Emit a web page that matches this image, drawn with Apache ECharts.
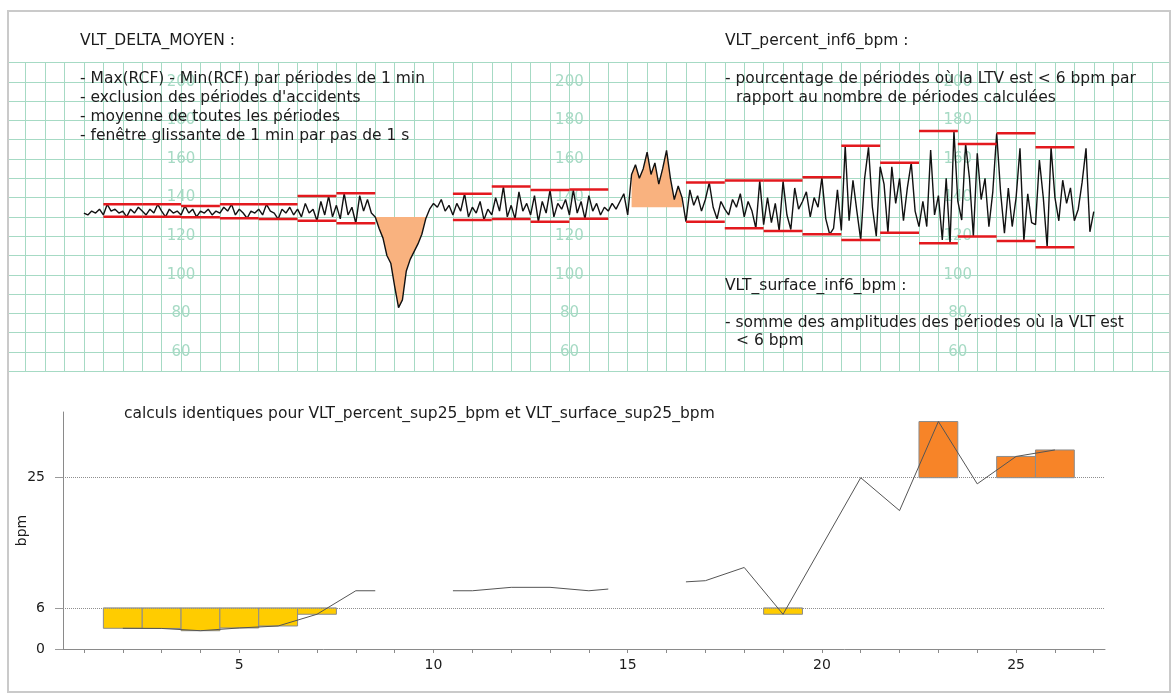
<!DOCTYPE html>
<html><head><meta charset="utf-8">
<script src="https://cdn.jsdelivr.net/npm/echarts@6/dist/echarts.min.js"></script>
<style>html,body{margin:0;padding:0;background:#fff;}#c{width:1172px;height:697px;}</style>
</head><body><div id="c"></div>
<script>
// ---------- DATA ----------
// FHR trace (bpm), one reading every 0.1 min starting at minute 1.0
const traceStart = 1.0;
const traceStep = 0.1;
const trace = [
  132,131,133,132,134,131,136.5,133,134,132,
  133,130,134,132,135,133,131,134,132,136.5,
  133,130,134,132,133,131,135.7,132,134,130,
  133,132,134,131,133,132,135,133,136.5,131,
  134,132,129.3,133,132,134,131,136.5,133,132,
  128.9,134,132,135,131,134,130,137,132,134,
  128,138,131,140.8,130,136,129,142.2,131,135,
  126.7,141,133,139,132,130,124,119,110,106,
  94,83,87,102,108,112,116,121,129,134,
  137,135,139,133,136,131,137,133,142,130,
  135,132,138,128.5,134,131,140,133,145.7,130,
  136,129,143,133,137,131,141,127.5,138,132,
  143.9,130,137,134,139,131,144,132,138,129,
  141,133,137,131,135,133,137,134,138,142,
  131,152,157,150,155,163.5,152,158,147,155,
  164.5,150,139,146,140,127.5,144,136,141,133,
  139,147.8,135,129,138,134,131,139,135,142,
  130,138,133,124.1,148.8,126,140,127,137,122.7,
  148.5,131,123.5,145,134,138,143,130,140,135,
  150.5,129,121,124,144,123,166.9,128,149,133,
  118,150,166,135,120,156,147,121.8,156,137,
  150,128,145,158.1,133,125,138,125,164.7,131,
  141,118,150,116.3,174.5,138,128.4,167.8,150,119.8,
  163,139,150,124.9,143,173.3,143,121.5,145,125,
  140,165.5,117.5,142,127,126,159.5,140,114.3,166.1,
  140,128,149,137,145,128,134,148,165.5,122.3,
  132.7
];
// one-minute periods and their max / min RCF (red segments)
const periods   = [2,3,4,5,6,7,8,11,12,13,14,17,18,19,20,21,22,23,24,25,26];
const periodMax = [136.5,136.5,135.7,136.5,136.5,140.8,142.2,142,145.7,143.9,144.2,147.8,148.8,148.8,150.5,166.9,158.1,174.5,167.8,173.3,166.1];
const periodMin = [130.1,130.1,129.8,129.3,128.9,128.0,126.7,128.4,128.9,127.5,129.1,127.5,124.1,122.7,121.0,118.0,121.8,116.3,119.8,117.5,114.3];
// accidents: [start min, end min, baseline bpm]
const accidentStart = [8.5, 15.1];
const accidentEnd   = [9.8, 16.4];
const accidentBase  = [130, 135];
// CTG paper scale labels
const paperLabelCols = [3.5, 13.5, 23.5];
const paperLabels = [60, 80, 100, 120, 140, 160, 180, 200];
// lower chart: sliding LTV (bpm); null = gap
const ltvX = [2,3,4,5,6,7,8,8.5,null,10.5,11,12,13,14,14.5,null,16.5,17,18,19,21,22,23,24,25,26];
const ltvY = [3.02,3.0,2.67,3.07,3.36,5.07,8.5,8.5,null,8.5,8.5,9.0,9.0,8.5,8.75,null,9.8,9.97,11.9,5.07,25.0,20.2,33.2,24.1,28.1,29.05];
const lowLimit = 6;
const highLimit = 25;
const xTickValues = [1,2,3,4,5,6,7,8,9,10,11,12,13,14,15,16,17,18,19,20,21,22,23,24,25,26,27];
const xLabelValues = [5, 10, 15, 20, 25];
const yLabelValues = [0, 6, 25];

// ---------- BUILD ----------
const traceData = trace.map((v, i) => [+(traceStart + i * traceStep).toFixed(2), v]);
const redData = periods.map((p, i) => [p, periodMin[i], periodMax[i]]);
const fillData = accidentStart.map((s, i) => [s, accidentEnd[i], accidentBase[i]]);
const paperLabelData = [];
paperLabelCols.forEach(c => paperLabels.forEach(v => paperLabelData.push([c, v])));
const ltvData = ltvX.map((x, i) => x === null ? ['-', '-'] : [x, ltvY[i]]);
const lowBars = [], highBars = [];
ltvX.forEach((x, i) => {
  if (x === null || !Number.isInteger(x)) return;
  const y = ltvY[i];
  if (y < lowLimit) lowBars.push([x, y, lowLimit]);
  else if (y > highLimit) highBars.push([x, highLimit, y]);
});

const FONT = '"DejaVu Sans", Verdana, sans-serif';
const GREEN = '#a6dac4';
const TXT = '#1c1c1c';

function txt(x, y, s) {
  return { type: 'text', x: x, y: y, z: 50,
    style: { text: s, font: '15.5px ' + FONT, fill: TXT, verticalAlign: 'middle', align: 'left' } };
}

const chart = echarts.init(document.getElementById('c'), null, { renderer: 'canvas' });
chart.setOption({
  animation: false,
  backgroundColor: '#fff',
  grid: [
    { left: 6.26, top: 62.5, width: 1165.2, height: 308.8, outerBoundsMode: 'none', containLabel: false },
    { left: 63, top: 412, width: 1042, height: 237, outerBoundsMode: 'none', containLabel: false }
  ],
  xAxis: [
    { gridIndex: 0, type: 'value', min: -1, max: 29, interval: 0.5,
      axisLine: { show: false }, axisTick: { show: false }, axisLabel: { show: false },
      splitLine: { show: true, lineStyle: { color: GREEN, width: 1 } } },
    { gridIndex: 1, type: 'value', min: 0.46, max: 27.29,
      axisLine: { show: true, lineStyle: { color: '#8a8a8a', width: 1 } },
      axisTick: { show: true, customValues: xTickValues, length: 4, lineStyle: { color: '#8a8a8a' } },
      axisLabel: { show: true, customValues: xLabelValues, margin: 9, color: TXT, fontFamily: FONT, fontSize: 14 },
      splitLine: { show: false } }
  ],
  yAxis: [
    { gridIndex: 0, type: 'value', min: 50, max: 210, interval: 10,
      axisLine: { show: false }, axisTick: { show: false }, axisLabel: { show: false },
      splitLine: { show: true, lineStyle: { color: GREEN, width: 1 } } },
    { gridIndex: 1, type: 'value', min: 0, max: 34.59,
      name: 'bpm', nameLocation: 'middle', nameRotate: 90, nameGap: 34, nameMoveOverlap: false,
      nameTextStyle: { color: TXT, fontFamily: FONT, fontSize: 14 },
      axisLine: { show: true, lineStyle: { color: '#8a8a8a', width: 1 } },
      axisTick: { show: true, customValues: yLabelValues, length: 8, lineStyle: { color: '#9a9a9a' } },
      axisLabel: { show: true, customValues: yLabelValues, margin: 18, color: TXT, fontFamily: FONT, fontSize: 14 },
      splitLine: { show: false } }
  ],
  series: [
    { // paper scale labels
      type: 'custom', xAxisIndex: 0, yAxisIndex: 0, z: 1, silent: true,
      data: paperLabelData, encode: { x: 0, y: 1 },
      renderItem: function (params, api) {
        const p = api.coord([api.value(0), api.value(1)]);
        return { type: 'text', x: p[0], y: p[1],
          style: { text: String(api.value(1)), font: '15px ' + FONT, fill: GREEN, align: 'center', verticalAlign: 'middle' } };
      }
    },
    { // accident fills
      type: 'custom', xAxisIndex: 0, yAxisIndex: 0, z: 2, silent: true,
      data: fillData, encode: { x: [0, 1], y: 2 },
      renderItem: function (params, api) {
        const s = api.value(0), e = api.value(1), b = api.value(2);
        const pts = [api.coord([s, b])];
        trace.forEach((v, i) => {
          const t = traceStart + i * traceStep;
          if (t >= s - 1e-6 && t <= e + 1e-6) pts.push(api.coord([t, v]));
        });
        pts.push(api.coord([e, b]));
        return { type: 'polygon', shape: { points: pts }, style: { fill: '#f9b27f', stroke: null } };
      }
    },
    { // FHR trace
      type: 'line', xAxisIndex: 0, yAxisIndex: 0, z: 5, silent: true,
      data: traceData, showSymbol: false, symbol: 'none',
      lineStyle: { color: '#111', width: 1.4 }
    },
    { // red max/min segments
      type: 'custom', xAxisIndex: 0, yAxisIndex: 0, z: 6, silent: true,
      data: redData, encode: { x: 0, y: [1, 2] },
      renderItem: function (params, api) {
        const p = api.value(0);
        const lo = api.value(1), hi = api.value(2);
        const a1 = api.coord([p - 0.5, hi]), a2 = api.coord([p + 0.5, hi]);
        const b1 = api.coord([p - 0.5, lo]), b2 = api.coord([p + 0.5, lo]);
        const st = { stroke: '#e3191e', lineWidth: 2.5 };
        return { type: 'group', children: [
          { type: 'line', shape: { x1: a1[0], y1: a1[1], x2: a2[0], y2: a2[1] }, style: st },
          { type: 'line', shape: { x1: b1[0], y1: b1[1], x2: b2[0], y2: b2[1] }, style: st }
        ] };
      }
    },
    { // low bars (yellow)
      type: 'custom', xAxisIndex: 1, yAxisIndex: 1, z: 3, silent: true,
      data: lowBars, encode: { x: 0, y: [1, 2] },
      renderItem: function (params, api) {
        const x = api.value(0);
        const p1 = api.coord([x - 0.5, api.value(2)]), p2 = api.coord([x + 0.5, api.value(1)]);
        return { type: 'rect', shape: { x: p1[0], y: p1[1], width: p2[0] - p1[0], height: p2[1] - p1[1] },
          style: { fill: '#ffcc00', stroke: '#8c8c8c', lineWidth: 1 } };
      }
    },
    { // high bars (orange)
      type: 'custom', xAxisIndex: 1, yAxisIndex: 1, z: 3, silent: true,
      data: highBars, encode: { x: 0, y: [1, 2] },
      renderItem: function (params, api) {
        const x = api.value(0);
        const p1 = api.coord([x - 0.5, api.value(2)]), p2 = api.coord([x + 0.5, api.value(1)]);
        return { type: 'rect', shape: { x: p1[0], y: p1[1], width: p2[0] - p1[0], height: p2[1] - p1[1] },
          style: { fill: '#f78428', stroke: '#8c8c8c', lineWidth: 1 } };
      }
    },
    { // sliding LTV line
      type: 'line', xAxisIndex: 1, yAxisIndex: 1, z: 5, silent: true,
      data: ltvData, showSymbol: false, symbol: 'none', connectNulls: false,
      lineStyle: { color: '#555', width: 1 },
      markLine: { silent: true, symbol: 'none', label: { show: false },
        lineStyle: { color: '#8e8e8e', type: 'dotted', width: 1 },
        data: [{ yAxis: lowLimit }, { yAxis: highLimit }] }
    }
  ],
  graphic: [
    { type: 'rect', z: 40, shape: { x: 0, y: 0, width: 8, height: 697 }, style: { fill: '#fff' } },
    { type: 'rect', z: 40, shape: { x: 1170, y: 0, width: 2, height: 697 }, style: { fill: '#fff' } },
    { type: 'rect', z: 45, shape: { x: 8, y: 11, width: 1162, height: 681 }, style: { fill: 'none', stroke: '#cacaca', lineWidth: 2 } },
    txt(80, 41, 'VLT_DELTA_MOYEN :'),
    txt(80, 79.4, '- Max(RCF) - Min(RCF) par périodes de 1 min'),
    txt(80, 98.4, '- exclusion des périodes d\'accidents'),
    txt(80, 117, '- moyenne de toutes les périodes'),
    txt(80, 136, '- fenêtre glissante de 1 min par pas de 1 s'),
    txt(725, 41, 'VLT_percent_inf6_bpm :'),
    txt(725, 79.4, '- pourcentage de périodes où la LTV est < 6 bpm par'),
    txt(736, 97.7, 'rapport au nombre de périodes calculées'),
    txt(725, 286, 'VLT_surface_inf6_bpm :'),
    txt(725, 322.7, '- somme des amplitudes des périodes où la VLT est'),
    txt(736, 341, '< 6 bpm'),
    txt(124, 414.4, 'calculs identiques pour VLT_percent_sup25_bpm et VLT_surface_sup25_bpm')
  ]
});
</script>
</body></html>
